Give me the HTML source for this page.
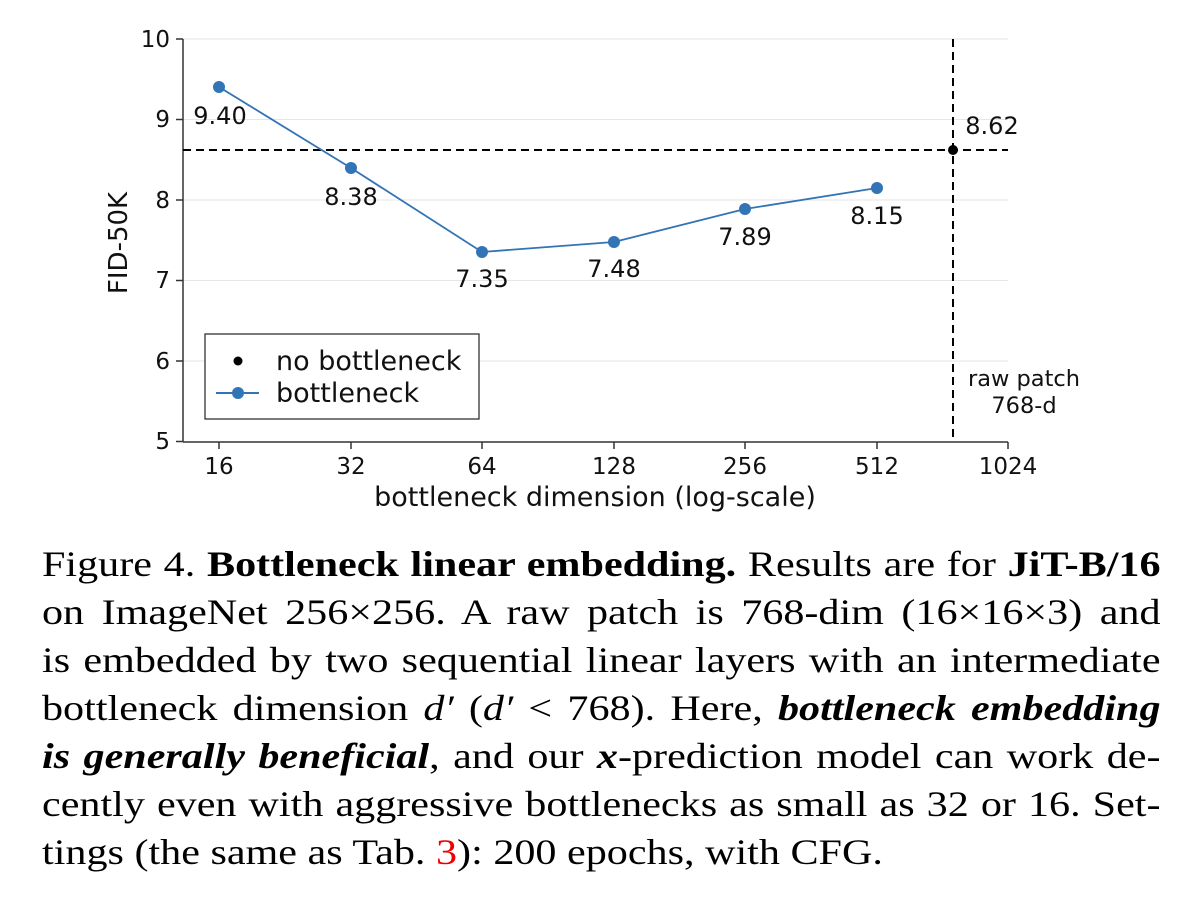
<!DOCTYPE html>
<html><head><meta charset="utf-8"><style>
body{margin:0;background:#fff;width:1200px;height:924px;overflow:hidden;position:relative}
svg{position:absolute;left:0;top:0}
.cap{position:absolute;left:42px;width:956px;font-family:"Liberation Serif",serif;font-size:36px;line-height:48px;top:540px;transform:scaleX(1.17);transform-origin:0 0}
.cap div{text-align:justify;text-align-last:justify;white-space:nowrap;height:48px}
.cap div.last{text-align-last:left}
</style></head><body>
<svg width="1200" height="540" font-family="DejaVu Sans, sans-serif">
<g stroke="#e6e6e6" stroke-width="1">
<line x1="183" x2="1008" y1="39" y2="39"/><line x1="183" x2="1008" y1="119.5" y2="119.5"/><line x1="183" x2="1008" y1="200" y2="200"/><line x1="183" x2="1008" y1="280.5" y2="280.5"/><line x1="183" x2="1008" y1="361" y2="361"/>
</g>
<g stroke="#333" stroke-width="1.5">
<line x1="183" y1="39" x2="183" y2="442"/><line x1="183" y1="442" x2="1008" y2="442"/>
<line x1="176" x2="183" y1="39" y2="39"/><line x1="176" x2="183" y1="119.5" y2="119.5"/><line x1="176" x2="183" y1="200" y2="200"/><line x1="176" x2="183" y1="280.5" y2="280.5"/><line x1="176" x2="183" y1="361" y2="361"/><line x1="176" x2="183" y1="441.5" y2="441.5"/>
<line x1="219" x2="219" y1="442" y2="449"/><line x1="351" x2="351" y1="442" y2="449"/><line x1="482" x2="482" y1="442" y2="449"/><line x1="614" x2="614" y1="442" y2="449"/><line x1="745" x2="745" y1="442" y2="449"/><line x1="877" x2="877" y1="442" y2="449"/><line x1="1008" x2="1008" y1="442" y2="449"/>
</g>
<g font-size="23" fill="#111" text-anchor="end">
<text x="170" y="47">10</text><text x="170" y="127">9</text><text x="170" y="208">8</text><text x="170" y="288">7</text><text x="170" y="369">6</text><text x="170" y="449">5</text>
</g>
<g font-size="23" fill="#111" text-anchor="middle">
<text x="219" y="474">16</text><text x="351" y="474">32</text><text x="482" y="474">64</text><text x="614" y="474">128</text><text x="745" y="474">256</text><text x="877" y="474">512</text><text x="1008" y="474">1024</text>
<text x="595" y="506" font-size="27">bottleneck dimension (log-scale)</text>
<text transform="translate(127,243) rotate(-90)" font-size="26">FID-50K</text>
</g>
<line x1="183" x2="1008" y1="150" y2="150" stroke="#000" stroke-width="2" stroke-dasharray="8,5"/>
<line x1="953" x2="953" y1="39" y2="442" stroke="#000" stroke-width="2" stroke-dasharray="8,5"/>
<circle cx="953" cy="150" r="5" fill="#000"/>
<polyline fill="none" stroke="#3274b5" stroke-width="1.8" points="219,87 351,168 482,252 614,242 745,209 877,188"/>
<g fill="#3274b5"><circle cx="219" cy="87" r="6"/><circle cx="351" cy="168" r="6"/><circle cx="482" cy="252" r="6"/><circle cx="614" cy="242" r="6"/><circle cx="745" cy="209" r="6"/><circle cx="877" cy="188" r="6"/></g>
<g font-size="24" fill="#111" text-anchor="middle">
<text x="220" y="124">9.40</text><text x="351" y="205">8.38</text><text x="482" y="287">7.35</text><text x="614" y="277">7.48</text><text x="745" y="245">7.89</text><text x="877" y="224">8.15</text>
<text x="992" y="134">8.62</text>
<text x="1024" y="386" font-size="22.5">raw patch</text><text x="1024" y="413" font-size="22.5">768-d</text>
</g>
<rect x="205" y="334" width="274" height="85" fill="#fff" stroke="#222" stroke-width="1.2"/>
<circle cx="238" cy="361" r="4.5" fill="#000"/>
<line x1="216" x2="259" y1="393" y2="393" stroke="#3274b5" stroke-width="2"/><circle cx="238" cy="393" r="6" fill="#3274b5"/>
<g font-size="27" fill="#111"><text x="276" y="370">no bottleneck</text><text x="276" y="402">bottleneck</text></g>
</svg>
<div class="cap">
<div>Figure 4. <b>Bottleneck linear embedding.</b> Results are for <b>JiT-B/16</b></div>
<div>on ImageNet 256×256. A raw patch is 768-dim (16×16×3) and</div>
<div>is embedded by two sequential linear layers with an intermediate</div>
<div>bottleneck dimension <i>d′</i> (<i>d′</i> &lt; 768). Here, <b><i>bottleneck embedding</i></b></div>
<div><b><i>is generally beneficial</i></b>, and our <b><i>x</i></b>-prediction model can work de-</div>
<div>cently even with aggressive bottlenecks as small as 32 or 16. Set-</div>
<div class="last">tings (the same as Tab. <span style="color:#e00">3</span>): 200 epochs, with CFG.</div>
</div>
</body></html>
